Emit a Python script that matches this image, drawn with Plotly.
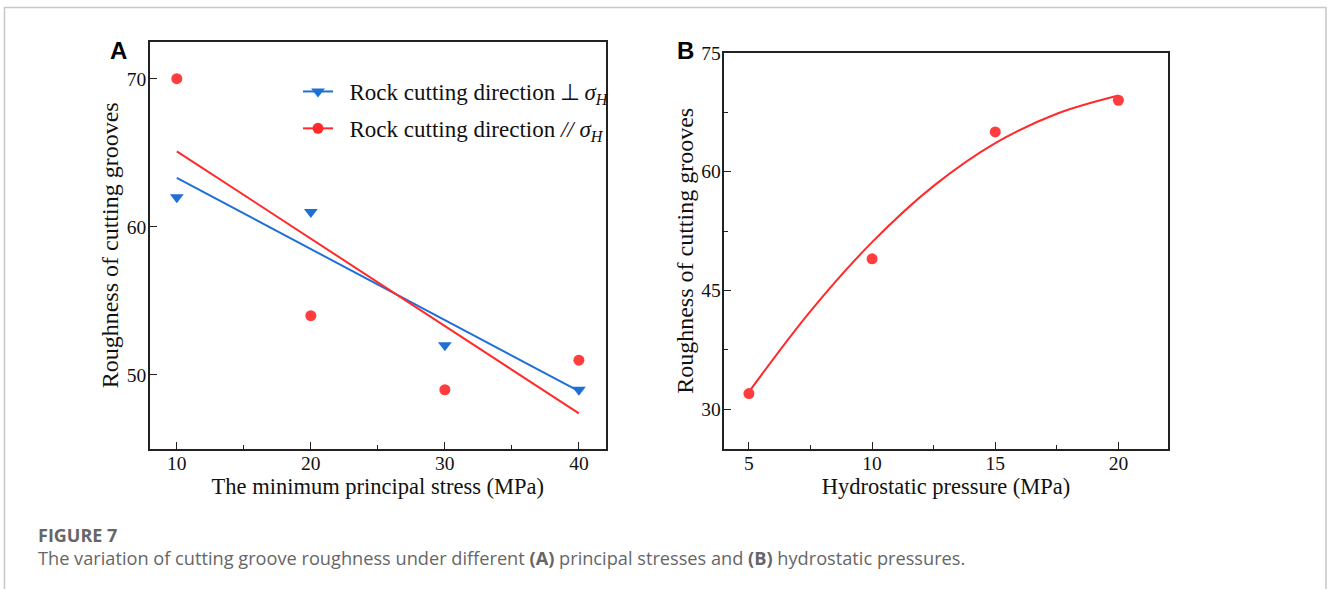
import plotly.graph_objects as go

W, H = 1328, 589

# ---------- Data ----------
# Panel A
stress = [10, 20, 30, 40]
perp_rough = [62, 61, 52, 49]
para_rough = [70, 54, 49, 51]
fit_x = [10, 40]
perp_fit = [63.3, 48.9]
para_fit = [65.1, 47.4]

# Panel B
pressure = [5, 10, 15, 20]
hydro_rough = [32, 49, 65, 69]
curve_x = [5, 7.5, 10, 12.5, 15, 17.5, 20]
curve_y = [32.2, 42.4, 51.1, 58.2, 63.6, 67.3, 69.6]

BLUE = "#1f6fd8"
RED = "#ff2b2b"
RED_M = "#ff3d3d"
SERIF = "Liberation Serif, Times New Roman, serif"
SANS = "Liberation Sans, Arial, sans-serif"
CAP = "Open Sans, Noto Sans, sans-serif"


def px(x):
    return x / W


def py(y):
    return 1 - y / H


fig = go.Figure()

# Panel A fit lines
fig.add_trace(go.Scatter(x=fit_x, y=perp_fit, mode="lines", line=dict(color=BLUE, width=2),
                         showlegend=False, xaxis="x", yaxis="y"))
fig.add_trace(go.Scatter(x=fit_x, y=para_fit, mode="lines", line=dict(color=RED, width=2),
                         showlegend=False, xaxis="x", yaxis="y"))
# Panel A points
fig.add_trace(go.Scatter(x=stress, y=perp_rough, mode="markers",
                         marker=dict(symbol="triangle-down", size=12, color=BLUE),
                         showlegend=False, xaxis="x", yaxis="y"))
fig.add_trace(go.Scatter(x=stress, y=para_rough, mode="markers",
                         marker=dict(symbol="circle", size=11, color=RED_M),
                         showlegend=False, xaxis="x", yaxis="y"))
# Legend entries
fig.add_trace(go.Scatter(x=[None], y=[None], mode="lines+markers",
                         line=dict(color=BLUE, width=2),
                         marker=dict(symbol="triangle-down", size=12, color=BLUE),
                         name="\u00a0\u00a0Rock cutting direction\u2009\u22a5\u2009<i>\u03c3</i><sub><i>H</i></sub>",
                         legendgroup="a", xaxis="x", yaxis="y"))
fig.add_trace(go.Scatter(x=[None], y=[None], mode="lines+markers",
                         line=dict(color=RED, width=2),
                         marker=dict(symbol="circle", size=11, color=RED),
                         name="\u00a0\u00a0Rock cutting direction <i>//</i> <i>\u03c3</i><sub><i>H</i></sub>",
                         legendgroup="b", xaxis="x", yaxis="y"))

# Panel B
fig.add_trace(go.Scatter(x=curve_x, y=curve_y, mode="lines", line=dict(color=RED, width=2, shape="spline"),
                         showlegend=False, xaxis="x2", yaxis="y2"))
fig.add_trace(go.Scatter(x=pressure, y=hydro_rough, mode="markers",
                         marker=dict(symbol="circle", size=11, color=RED_M),
                         showlegend=False, xaxis="x2", yaxis="y2"))

axis_common = dict(showline=True, mirror=True, linecolor="#222", linewidth=1.5,
                   ticks="inside", ticklen=7, tickwidth=1.2, tickcolor="#222",
                   showgrid=False, zeroline=False, automargin=False,
                   tickfont=dict(family=SERIF, size=19.5, color="#111"))

xt_font = dict(family=SERIF, size=22.5, color="#111")
yt_font = dict(family=SERIF, size=24, color="#111")

fig.update_layout(
    width=W, height=H,
    margin=dict(l=0, r=0, t=0, b=0),
    paper_bgcolor="white", plot_bgcolor="white",
    xaxis=dict(domain=[px(150), px(605.7)], range=[8, 42], tickvals=[10, 20, 30, 40],
               minor=dict(tickvals=[15, 25, 35], ticks="inside", ticklen=4, tickcolor="#222"),
               title=dict(text="The minimum principal stress (MPa)", standoff=0, font=xt_font),
               ticklabelstandoff=-4, anchor="y", **axis_common),
    yaxis=dict(domain=[py(449), py(41.7)], range=[45, 72.5], tickvals=[50, 60, 70],
               title=dict(text="Roughness of cutting grooves", standoff=1, font=yt_font),
               ticklabelstandoff=-2, anchor="x", **axis_common),
    xaxis2=dict(domain=[px(724.3), px(1167.7)], range=[4, 22], tickvals=[5, 10, 15, 20],
                minor=dict(tickvals=[7.5, 12.5, 17.5], ticks="inside", ticklen=4, tickcolor="#222"),
                title=dict(text="Hydrostatic pressure (MPa)", standoff=0, font=xt_font),
                ticklabelstandoff=-4, anchor="y2", **axis_common),
    yaxis2=dict(domain=[py(449), py(52.7)], range=[25, 75], tickvals=[30, 45, 60, 75],
                minor=dict(tickvals=[37.5, 52.5, 67.5], ticks="inside", ticklen=4, tickcolor="#222"),
                title=dict(text="Roughness of cutting grooves", standoff=1, font=yt_font),
                ticklabelstandoff=-2, anchor="x2", **axis_common),
    legend=dict(x=px(298), y=py(70), xanchor="left", yanchor="top",
                font=dict(family=SERIF, size=23, color="#111"),
                bgcolor="rgba(0,0,0,0)", tracegroupgap=4, traceorder="grouped"),
    showlegend=True,
)

# Panel labels
fig.add_annotation(text="<b>A</b>", x=px(118), y=py(50), xref="paper", yref="paper",
                   xanchor="center", yanchor="middle",
                   showarrow=False, font=dict(family=SANS, size=24, color="#000"))
fig.add_annotation(text="<b>B</b>", x=px(685), y=py(50), xref="paper", yref="paper",
                   xanchor="center", yanchor="middle",
                   showarrow=False, font=dict(family=SANS, size=24, color="#000"))

# Caption
fig.add_annotation(text="<b>FIGURE 7</b>", x=px(36), y=py(535), xref="paper", yref="paper",
                   xanchor="left", yanchor="middle", showarrow=False,
                   font=dict(family=CAP, size=18, color="#666"))
fig.add_annotation(text="The variation of cutting groove roughness under different <b>(A)</b> principal stresses and <b>(B)</b> hydrostatic pressures.",
                   x=px(36), y=py(558), xref="paper", yref="paper",
                   xanchor="left", yanchor="middle", showarrow=False,
                   font=dict(family=CAP, size=18.2, color="#666"))

# Outer frame (open at bottom)
fig.add_shape(type="path", xref="paper", yref="paper",
              path=f"M {px(4.5)} -0.05 L {px(4.5)} {py(7.5)} L {px(1326)} {py(7.5)} L {px(1326)} -0.05",
              line=dict(color="#c8c8c8", width=1.5))

fig.write_html("out.html")
